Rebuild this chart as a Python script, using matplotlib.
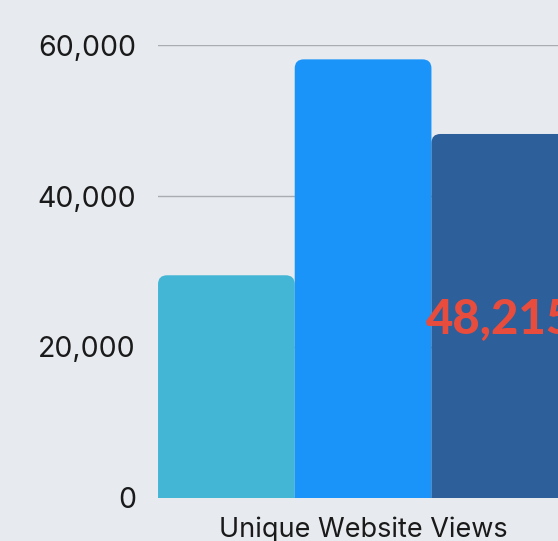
import matplotlib.pyplot as plt
from matplotlib.patches import FancyBboxPatch

# data
categories = ['Unique Website Views']
series_names = ['Series A', 'Series B', 'Series C']
series_values = [29500, 58100, 48215]
bar_colors = ['#42b6d4', '#1a94f8', '#2d5f9a']
y_ticks = [0, 20000, 40000, 60000]
y_tick_labels = ['0', '20,000', '40,000', '60,000']
labelled = [False, False, True]

bg = '#e7eaef'
plt.rcParams['font.family'] = ['Inter', 'DejaVu Sans']

fig = plt.figure(figsize=(5.58, 5.41), dpi=100, facecolor=bg)
ax = fig.add_axes([0.2832, 0.0795, 0.735, 0.8373], facecolor=bg)

ax.set_xlim(-1.5, 1.5)
ax.set_ylim(0, 60000)

# gridlines
for t in y_ticks:
    ax.axhline(t, color='#a9acb1' if t else '#555a60', lw=1, zorder=1)

# rounded bars
x_per_px = 3 / 410
y_per_px = 60000 / 453
offsets = [-1, 0, 1]
for off, name, val, col, lab in zip(offsets, series_names, series_values, bar_colors, labelled):
    left = off - 0.5
    box = FancyBboxPatch((left, -3000), 1, val + 3000,
                         boxstyle='round,pad=0,rounding_size=%f' % (9 * x_per_px),
                         mutation_aspect=y_per_px / x_per_px,
                         facecolor=col, edgecolor='none', zorder=2, label=name)
    ax.add_patch(box)
    if lab:
        ax.text(off, val / 2, f'{val:,}', ha='center', va='center_baseline',
                fontsize=34, fontweight='black', color='#e84c3d',
                family=['Lato', 'DejaVu Sans'], zorder=3)

ax.set_yticks(y_ticks)
ax.set_yticklabels(y_tick_labels)
ax.set_xticks([0])
ax.set_xticklabels(categories)
ax.tick_params(axis='y', length=0, pad=16, labelsize=20.5, labelcolor='#1a1a1a')
ax.tick_params(axis='x', length=0, pad=13, labelsize=19.5, labelcolor='#1a1a1a')
for s in ax.spines.values():
    s.set_visible(False)

fig.savefig('out.png', dpi=100, facecolor=bg)
